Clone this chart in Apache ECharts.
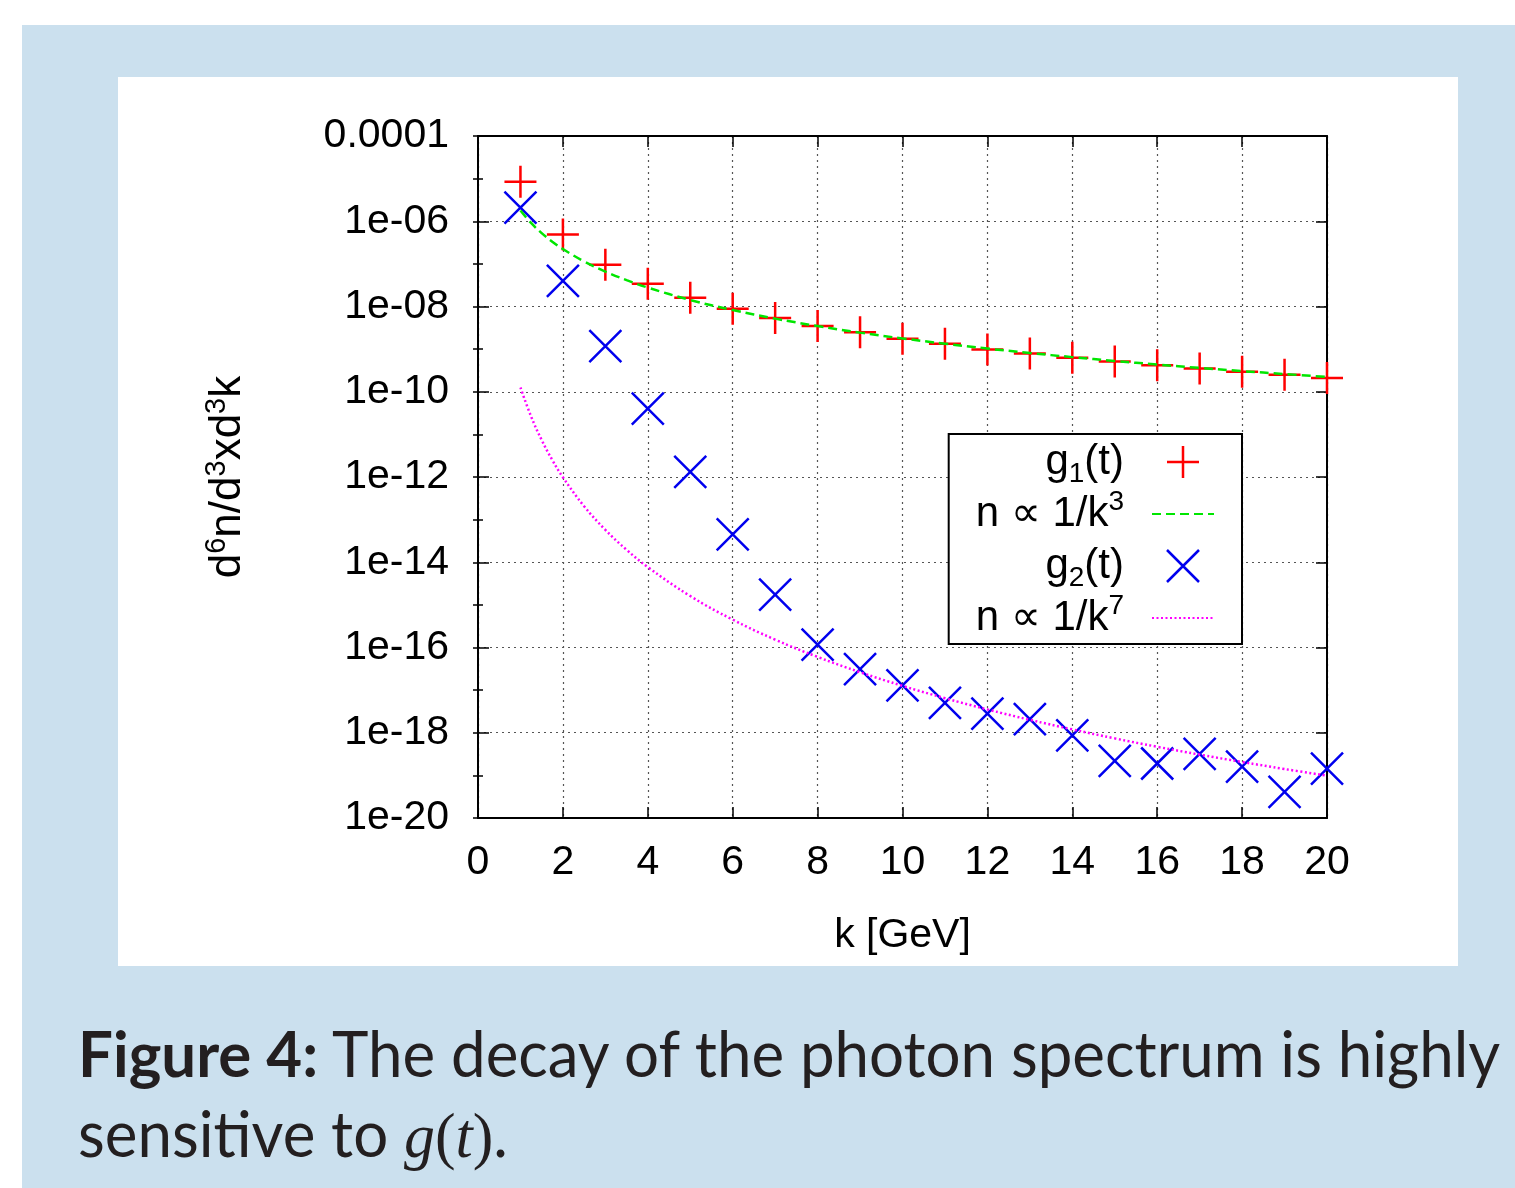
<!DOCTYPE html>
<html>
<head>
<meta charset="utf-8">
<title>Photon spectrum decay</title>
<script src="https://cdn.jsdelivr.net/npm/echarts@6.0.0/dist/echarts.min.js"></script>
<style>
  html, body { margin: 0; padding: 0; background: #fff; }
  body { position: relative; width: 1515px; height: 1188px; overflow: hidden; }
  .frame { position: absolute; left: 22px; top: 25px; width: 1493px; height: 1163px; background: #cbe0ee; }
  #chart { position: absolute; left: 118px; top: 77px; width: 1340px; height: 889px; background: #fff; }
  .caption {
    position: absolute; left: 78px; margin: 0;
    font-family: Lato, 'Open Sans', sans-serif; font-size: 63px; line-height: 63px;
    color: #231f20; white-space: nowrap; transform-origin: 0 0;
  }
  .caption b { font-weight: 700; }
  .math { font-family: 'Liberation Serif', 'DejaVu Serif', serif; }
</style>
</head>
<body>
<div class="frame"></div>
<div id="chart"></div>
<div class="caption" id="cap1" style="top:1021px"><b>Figure 4:</b> The decay of the photon spectrum is highly</div>
<div class="caption" id="cap2" style="top:1101px">sensitive to <span class="math"><i>g</i>(<i>t</i>)</span>.</div>
<script>
// data
const kValues = [1, 2, 3, 4, 5, 6, 7, 8, 9, 10, 11, 12, 13, 14, 15, 16, 17, 18, 19, 20]
const g1Values = [8.5e-6, 4.9e-7, 9.5e-8, 3.4e-8, 1.6e-8, 8.9e-9, 5.4e-9, 3.5e-9, 2.5e-9, 1.75e-9,
  1.33e-9, 9.8e-10, 7.9e-10, 6.3e-10, 5.1e-10, 4.2e-10, 3.5e-10, 2.95e-10, 2.5e-10, 2.1e-10]
const g2Values = [2.1e-6, 4.0e-8, 1.17e-9, 4.0e-11, 1.32e-12, 4.5e-14, 1.74e-15, 1.17e-16, 3.1e-17, 1.3e-17,
  5.0e-18, 2.8e-18, 2.1e-18, 8.7e-19, 2.2e-19, 1.9e-19, 3.2e-19, 1.6e-19, 4.1e-20, 1.44e-19]

const fitK = [1, 1.25, 1.5, 1.75, 2, 2.5, 3, 3.5, 4, 5, 6, 7, 8, 9, 10, 11, 12, 13, 14, 15, 16, 17, 18, 19, 20]
const fitCubicValues = [1.78e-6, 9.11e-7, 5.27e-7, 3.32e-7, 2.23e-7, 1.14e-7, 6.59e-8, 4.15e-8, 2.78e-8, 1.42e-8,
  8.24e-9, 5.19e-9, 3.48e-9, 2.44e-9, 1.78e-9, 1.34e-9, 1.03e-9, 8.10e-10, 6.49e-10, 5.27e-10,
  4.35e-10, 3.62e-10, 3.05e-10, 2.60e-10, 2.23e-10]
const fitSeventhValues = [1.26e-10, 2.64e-11, 7.37e-12, 2.51e-12, 9.84e-13, 2.06e-13, 5.76e-14, 1.96e-14, 7.69e-15, 1.61e-15,
  4.50e-16, 1.53e-16, 6.01e-17, 2.63e-17, 1.26e-17, 6.47e-18, 3.52e-18, 2.01e-18, 1.20e-18, 7.37e-19,
  4.69e-19, 3.07e-19, 2.06e-19, 1.41e-19, 9.84e-20]

const xTickValues = [0, 2, 4, 6, 8, 10, 12, 14, 16, 18, 20]
const xTickLabels = ['0', '2', '4', '6', '8', '10', '12', '14', '16', '18', '20']
const yTickExponents = [-20, -18, -16, -14, -12, -10, -8, -6, -4]
const yTickLabels = ['1e-20', '1e-18', '1e-16', '1e-14', '1e-12', '1e-10', '1e-08', '1e-06', '0.0001']

const FONT = "'Liberation Sans', Arial, 'DejaVu Sans', sans-serif"
const plusPath = 'path://M0,16L32,16M16,0L16,32'
const crossPath = 'path://M0,0L32,32M32,0L0,32'

// rich text styles for sub/superscripts
const makeRich = (size, small) => ({
  n: { fontSize: size, height: 52, lineHeight: 52, verticalAlign: 'middle', fontFamily: FONT, color: '#000' },
  sup: { fontSize: small, verticalAlign: 'top', fontFamily: FONT, color: '#000' },
  sub: { fontSize: small, verticalAlign: 'bottom', fontFamily: FONT, color: '#000' },
  gap: { width: 23, fontSize: 10 },
})

const legendText = {
  'g1(t)': '{n|g}{sub|1}{n|(t)}{gap| }',
  'n∝1/k3': '{n|n ∝ 1/k}{sup|3}{gap| }',
  'g2(t)': '{n|g}{sub|2}{n|(t)}{gap| }',
  'n∝1/k7': '{n|n ∝ 1/k}{sup|7}{gap| }',
}

const pairs = (xs, ys) => xs.map((x, i) => [x, ys[i]])

const dotted = { type: [2, 4], color: '#555', width: 1.2 }
const frameLine = { show: true, onZero: false, lineStyle: { color: '#000', width: 2 } }
const bigTick = { show: true, inside: true, length: 11, lineStyle: { color: '#000', width: 1.5 } }
const smallTick = { show: true, inside: true, length: 5, lineStyle: { color: '#000', width: 1.5 } }

const logAxis = (extra) => Object.assign({
  type: 'log', logBase: 10, min: 1e-20, max: 1e-4, interval: 2,
  axisLine: frameLine, axisTick: bigTick,
  axisLabel: { show: false }, splitLine: { show: false },
}, extra)

const option = {
  animation: false,
  textStyle: { fontFamily: FONT },
  grid: { left: 360, top: 59, width: 849, height: 682, outerBoundsMode: 'none' },
  legend: {
    orient: 'vertical',
    right: 216,
    top: 357,
    align: 'right',
    itemWidth: 62,
    itemHeight: 32,
    itemGap: 0,
    padding: [2, 27, 0, 27],
    borderColor: '#000',
    borderWidth: 2,
    borderRadius: 0,
    backgroundColor: '#fff',
    selectedMode: false,
    itemStyle: { borderWidth: 2.5 },
    data: [
      { name: 'g1(t)' },
      { name: 'n∝1/k3', itemStyle: { opacity: 0 } },
      { name: 'g2(t)' },
      { name: 'n∝1/k7', itemStyle: { opacity: 0 } },
    ],
    formatter: (name) => legendText[name],
    textStyle: { fontSize: 42, lineHeight: 52, fontFamily: FONT, color: '#000', rich: makeRich(42, 28) },
  },
  xAxis: [
    {
      type: 'value', min: 0, max: 20, interval: 2, position: 'bottom',
      axisLine: frameLine, axisTick: bigTick,
      axisLabel: {
        fontSize: 41, margin: 24, color: '#000',
        formatter: (v) => xTickLabels[xTickValues.indexOf(v)],
      },
      splitLine: { show: true, lineStyle: dotted },
      name: 'k [GeV]', nameLocation: 'middle', nameGap: 97,
      nameTextStyle: { fontSize: 41, color: '#000' },
    },
    {
      type: 'value', min: 0, max: 20, interval: 2, position: 'top',
      axisLine: frameLine, axisTick: bigTick,
      axisLabel: { show: false }, splitLine: { show: false },
    },
  ],
  yAxis: [
    logAxis({
      position: 'left',
      axisLabel: {
        fontSize: 41, margin: 29, color: '#000',
        formatter: (v) => {
          const i = yTickExponents.indexOf(Math.round(Math.log10(v)))
          return i >= 0 ? yTickLabels[i] : ''
        },
      },
      splitLine: { show: true, lineStyle: dotted },
      name: '{n|d}{sup|6}{n|n/d}{sup|3}{n|xd}{sup|3}{n|k}',
      nameLocation: 'middle', nameGap: 224, nameRotate: 90,
      nameTextStyle: { rich: makeRich(44, 29) },
    }),
    logAxis({ position: 'right' }),
    // decade ticks (shorter) between the labelled ones
    logAxis({ position: 'left', interval: 1, axisLine: { show: false }, axisTick: smallTick }),
    logAxis({ position: 'right', interval: 1, axisLine: { show: false }, axisTick: smallTick }),
  ],
  series: [
    {
      name: 'g1(t)', type: 'scatter', z: 4,
      data: pairs(kValues, g1Values),
      symbol: plusPath, symbolSize: 32, symbolKeepAspect: true,
      itemStyle: { color: '#ff0000', borderColor: '#ff0000', borderWidth: 2.5, opacity: 1 },
    },
    {
      name: 'n∝1/k3', type: 'line', z: 5,
      data: pairs(fitK, fitCubicValues),
      symbol: 'none', smooth: 0.4,
      lineStyle: { color: '#00e600', width: 2.5, type: [9, 5] },
      itemStyle: { color: '#00e600' },
    },
    {
      name: 'g2(t)', type: 'scatter', z: 4,
      data: pairs(kValues, g2Values),
      symbol: crossPath, symbolSize: 32, symbolKeepAspect: true,
      itemStyle: { color: '#0000ee', borderColor: '#0000ee', borderWidth: 2.5, opacity: 1 },
    },
    {
      name: 'n∝1/k7', type: 'line', z: 5,
      data: pairs(fitK, fitSeventhValues),
      symbol: 'none', smooth: 0.4,
      lineStyle: { color: '#ff00ff', width: 2.5, type: [2, 2.5] },
      itemStyle: { color: '#ff00ff' },
    },
  ],
}

const chart = echarts.init(document.getElementById('chart'))
chart.setOption(option)

function fitCaption() {
  const cap1 = document.getElementById('cap1')
  const cap2 = document.getElementById('cap2')
  cap1.style.transform = cap2.style.transform = 'none'
  const scale = 1422 / cap1.offsetWidth
  cap1.style.transform = cap2.style.transform = `scaleX(${scale})`
}
fitCaption()
if (document.fonts) document.fonts.ready.then(fitCaption)
</script>
</body>
</html>
